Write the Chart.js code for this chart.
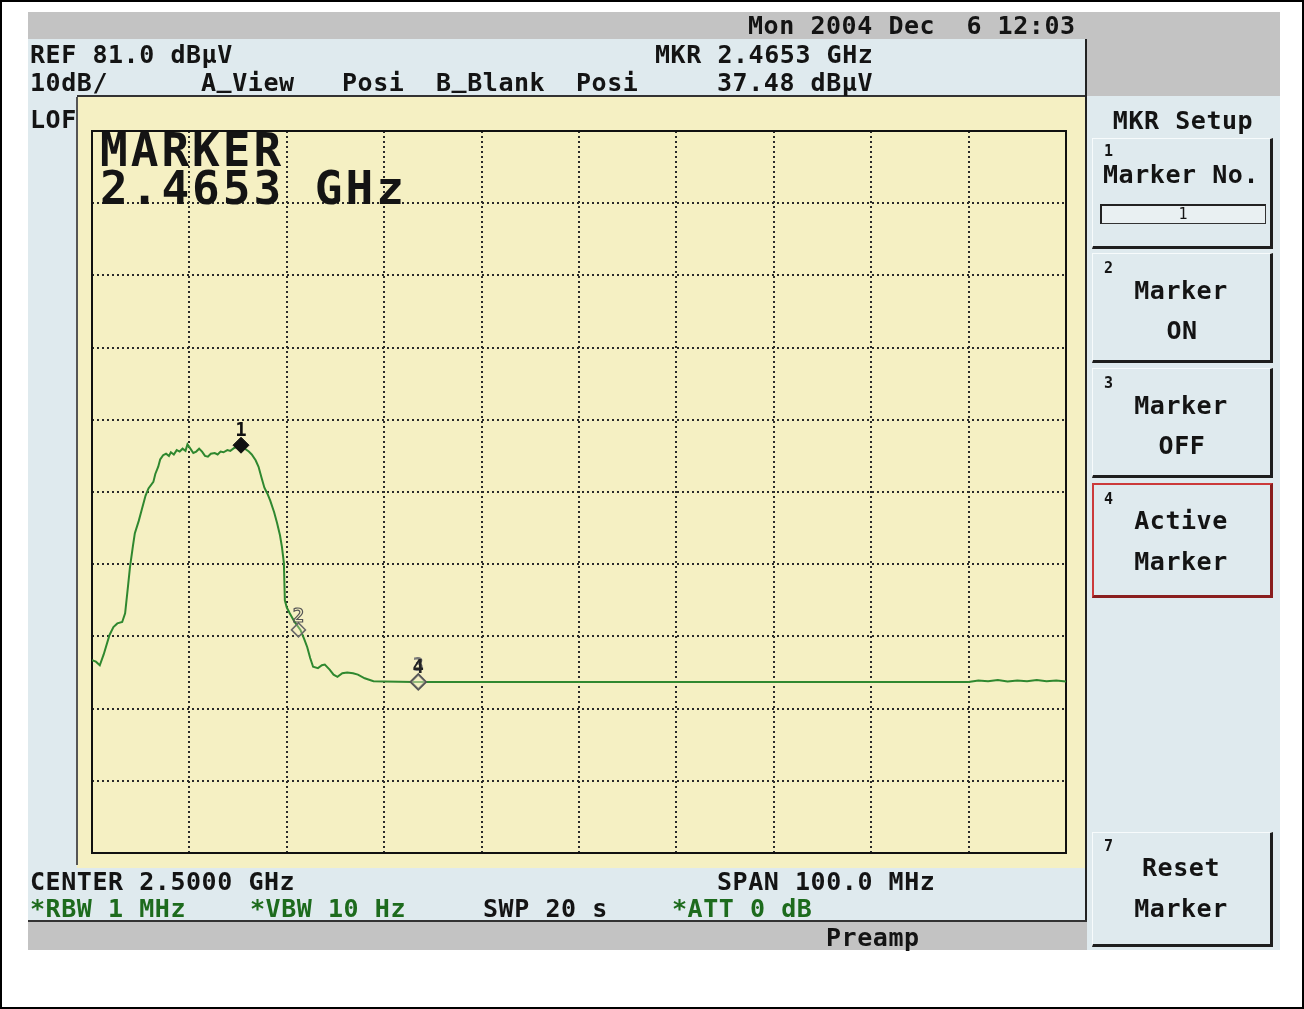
<!DOCTYPE html>
<html><head><meta charset="utf-8">
<script src="https://cdn.jsdelivr.net/npm/chart.js@4.4.1/dist/chart.umd.min.js"></script>
<style>
html,body{margin:0;padding:0;background:#fff;}
#root{position:relative;width:1304px;height:1009px;overflow:hidden;background:#fff;}
.b{position:absolute;box-sizing:border-box;}
.t{position:absolute;font-family:"DejaVu Sans Mono",monospace;font-weight:bold;font-size:25px;line-height:25px;letter-spacing:0.55px;white-space:pre;color:#141414;z-index:5;}
.t .u{position:relative;top:-4px;}
.g{color:#1d6b1d;}
.btn{position:absolute;box-sizing:border-box;left:1092px;width:181px;background:#dfeaee;border-left:1px solid #f7fbfc;border-top:1px solid #f7fbfc;border-right:3px solid #1e1e1e;border-bottom:3px solid #1e1e1e;z-index:2;}
#chart{position:absolute;left:0;top:0;z-index:3;}
</style></head>
<body><div id="root">
<div class="b" style="left:0;top:0;width:1304px;height:1009px;border:2px solid #000;z-index:9;pointer-events:none"></div>
<div class="b" style="left:28px;top:12px;width:1252px;height:27px;background:#c3c3c3"></div>
<div class="b" style="left:1087px;top:39px;width:193px;height:57px;background:#c3c3c3"></div>
<div class="b" style="left:28px;top:39px;width:1058px;height:883px;background:#dfeaee"></div>
<div class="b" style="left:1087px;top:96px;width:193px;height:854px;background:#dfeaee"></div>
<div class="b" style="left:1085px;top:39px;width:2px;height:883px;background:#222"></div>
<div class="b" style="left:77px;top:95px;width:1008px;height:2px;background:#333"></div>
<div class="b" style="left:77px;top:97px;width:1008px;height:771px;background:#f5f0c3"></div>
<div class="b" style="left:76px;top:97px;width:2px;height:768px;background:#555"></div>
<div class="b" style="left:28px;top:920px;width:1059px;height:2px;background:#333"></div>
<div class="b" style="left:28px;top:922px;width:1059px;height:28px;background:#c3c3c3"></div>

<div class="btn" style="top:138px;height:111px"></div>
<div class="b" style="left:1100px;top:204px;width:166px;height:20px;border:1px solid #333;border-top:2px solid #222;border-left:2px solid #222;background:#e9f0f2;z-index:3"></div>
<div class="btn" style="top:253px;height:110px"></div>
<div class="btn" style="top:368px;height:110px"></div>
<div class="btn" style="top:483px;height:115px;border:2px solid #cc3a3a;border-right:3px solid #8a1e1e;border-bottom:3px solid #8a1e1e"></div>
<div class="btn" style="top:832px;height:115px"></div>

<canvas id="chart" width="1304" height="1009"></canvas>
<div id="texts"></div>
</div>
<script>
// ---- data (frequency in MHz, level in dBuV) ----
const freqMHz = [
 2450.0,2450.4,2450.8,2451.2,2451.8,2452.2,2452.6,2453.1,2453.4,2453.7,
 2453.9,2454.2,2454.4,2454.8,2455.1,2455.5,2455.8,2456.3,2456.5,2456.8,
 2457.0,2457.3,2457.6,2457.9,2458.1,2458.4,2458.7,2459.0,2459.3,2459.6,
 2459.8,2460.1,2460.4,2460.7,2461.0,2461.3,2461.6,2461.9,2462.2,2462.6,
 2462.9,2463.2,2463.5,2463.9,2464.2,2464.6,2465.0,2465.3,2465.7,2466.1,
 2466.4,2466.8,2467.1,2467.4,2467.7,2468.0,2468.3,2468.7,2469.0,2469.3,
 2469.5,2469.7,2469.8,2470.0,2470.3,2470.8,2471.4,2471.8,2472.1,2472.4,
 2472.7,2473.2,2473.6,2473.9,2474.4,2474.8,2475.2,2475.7,2476.2,2476.8,
 2477.3,2478.0,2478.9,2480.0,2483.0,2490.0,2500.0,2510.0,2520.0,2530.0,
 2540.0,2541.0,2542.0,2543.0,2544.0,2545.0,2546.0,2547.0,2548.0,2549.0,2550.0
];
const levelDbuV = [
 7.7,7.5,7.0,8.5,11.2,12.3,12.8,13.0,14.2,18.0,
 20.6,23.5,25.3,27.0,28.5,30.5,31.5,32.4,33.5,34.5,
 35.5,36.1,36.3,36.0,36.5,36.2,36.8,36.6,37.0,36.7,
 37.6,37.0,36.4,36.6,37.0,36.6,36.0,35.9,36.3,36.4,
 36.2,36.6,36.5,36.8,36.7,37.1,37.3,37.48,37.0,36.6,
 36.2,35.4,34.5,33.0,31.6,30.8,29.8,28.2,26.7,25.0,
 23.4,21.2,16.0,15.0,14.2,13.0,11.9,10.6,9.5,8.0,
 6.8,6.6,7.0,7.1,6.4,5.7,5.4,5.9,6.0,5.9,
 5.7,5.2,4.8,4.75,4.7,4.7,4.7,4.7,4.7,4.7,
 4.7,4.9,4.8,4.95,4.75,4.9,4.8,4.95,4.8,4.9,4.75
];
const xMinMHz = 2450, xMaxMHz = 2550, xStepMHz = 10;      // CENTER 2.5 GHz, SPAN 100 MHz
const yGridDbuV = [-19,-9,1,11,21,31,41,51,61,71,81];     // REF 81.0 dBuV, 10 dB/div
const markerNames = ['1','2','3','4'];
const markerFreqMHz = [2465.3, 2471.2, 2483.5, 2483.5];
const markerLevel = [37.48, 11.9, 4.7, 4.7];

// ---- texts ----
const texts = [
 ['Mon 2004 Dec  6 12:03', 748, 25],
 ['REF 81.0 dB\u03bcV', 30, 54],
 ['MKR 2.4653 GHz', 655, 54],
 ['10dB/', 30, 82], ['A_View', 201, 82], ['Posi', 342, 82], ['B_Blank', 436, 82], ['Posi', 576, 82],
 ['37.48 dB\u03bcV', 717, 82],
 ['LOF', 30, 119],
 ['CENTER 2.5000 GHz', 30, 881], ['SPAN 100.0 MHz', 717, 881],
 ['*RBW 1 MHz', 30, 908, 'g'], ['*VBW 10 Hz', 250, 908, 'g'], ['SWP 20 s', 483, 908], ['*ATT 0 dB', 672, 908, 'g'],
 ['Preamp', 826, 937]
];
const panelTexts = [
 ['MKR Setup', 1183, 120], ['Marker No.', 1181, 174],
 ['Marker', 1181, 290], ['ON', 1182, 330],
 ['Marker', 1181, 405], ['OFF', 1182, 445],
 ['Active', 1181, 520], ['Marker', 1181, 561],
 ['Reset', 1181, 867], ['Marker', 1181, 908]
];
const keyNums = [['1',1104,151],['2',1104,268],['3',1104,383],['4',1104,499],['7',1104,846]];
const host = document.getElementById('texts');
function addText(s, x, cy, cls, center, size){
  const d = document.createElement('div');
  d.className = 't' + (cls ? ' ' + cls : '');
  if (s.indexOf('_') >= 0) {
    s.split('_').forEach((part, i) => {
      if (i > 0) { const u = document.createElement('span'); u.className = 'u'; u.textContent = '_'; d.appendChild(u); }
      d.appendChild(document.createTextNode(part));
    });
  } else d.textContent = s;
  const f = size || 25;
  if (size){ d.style.fontSize = f+'px'; d.style.lineHeight = f+'px'; }
  d.style.top = (cy - 0.48*f) + 'px';
  d.style.left = x + 'px';
  if (center) d.style.transform = 'translateX(-50%)';
  host.appendChild(d);
  return d;
}
texts.forEach(t => addText(t[0], t[1], t[2], t[3]));
panelTexts.forEach(t => addText(t[0], t[1], t[2], null, true));
keyNums.forEach(t => { const d = addText(t[0], t[1], t[2], null, false, 15); d.style.letterSpacing='0'; });
const bx = addText('1', 1183, 214, null, true, 15); bx.style.letterSpacing='0'; bx.style.fontWeight='normal';
const m1 = addText('MARKER', 100, 149, null, false, 46); m1.style.letterSpacing='3px';
const m2 = addText('2.4653 GHz', 100, 187, null, false, 46); m2.style.letterSpacing='3px';

// ---- chart ----
const framePlugin = {
  id:'frame',
  beforeDatasetsDraw(chart){
    const a = chart.chartArea, c = chart.ctx;
    c.save(); c.strokeStyle = '#111'; c.lineWidth = 2;
    c.strokeRect(a.left, a.top, a.right - a.left, a.bottom - a.top);
    c.restore();
  }
};
const labelPlugin = {
  id:'mkrLabels',
  afterDatasetsDraw(chart){
    const meta = chart.getDatasetMeta(1), c = chart.ctx;
    c.save();
    c.textAlign = 'center'; c.textBaseline = 'alphabetic';
    c.font = 'bold 19px "DejaVu Sans Mono", monospace';
    meta.data.forEach((p, i) => {
      const name = markerNames[i];
      if (name === '1') { c.fillStyle = '#111'; c.fillText(name, p.x, p.y - 9); }
      else if (name === '2') { c.strokeStyle = '#555'; c.lineWidth = 1.2; c.strokeText(name, p.x, p.y - 8); }
      else if (name === '3') { c.fillStyle = '#777'; c.fillText(name, p.x, p.y - 11); }
      else { c.fillStyle = '#222'; c.fillText(name, p.x, p.y - 9); }
    });
    c.restore();
  }
};
const gridOpts = { color:'#2a2a2a', lineWidth:2, drawTicks:false };
new Chart(document.getElementById('chart'), {
  type:'line',
  data:{ datasets:[
    { label:'trace', data: freqMHz.map((f,i)=>({x:f, y:levelDbuV[i]})),
      borderColor:'#2f882f', borderWidth:2, pointRadius:0, tension:0, fill:false, order:2 },
    { label:'markers', type:'scatter', data: markerFreqMHz.map((f,i)=>({x:f, y:markerLevel[i]})),
      pointStyle:'rectRot', pointRadius:[8,7,7,8],
      backgroundColor:['#111','rgba(245,240,196,0.3)','rgba(245,240,196,0.3)','rgba(245,240,196,0.3)'],
      borderColor:['#111','#6a6a6a','#6a6a6a','#555'], borderWidth:[1,1.5,1.5,1.5], order:1 }
  ]},
  options:{
    responsive:false, animation:false, events:[],
    layout:{ padding:{ left:92, top:131, right:238, bottom:156 } },
    plugins:{ legend:{display:false}, tooltip:{enabled:false} },
    scales:{
      x:{ type:'linear', min:xMinMHz, max:xMaxMHz, ticks:{display:false, stepSize:xStepMHz},
          grid:gridOpts, border:{display:false, dash:[2,3]} },
      y:{ type:'linear', min:yGridDbuV[0], max:yGridDbuV[yGridDbuV.length-1],
          afterBuildTicks: s => { s.ticks = yGridDbuV.map(v => ({value:v})); },
          ticks:{display:false}, grid:gridOpts, border:{display:false, dash:[2,3]} }
    }
  },
  plugins:[framePlugin, labelPlugin]
});
</script>
</body></html>
